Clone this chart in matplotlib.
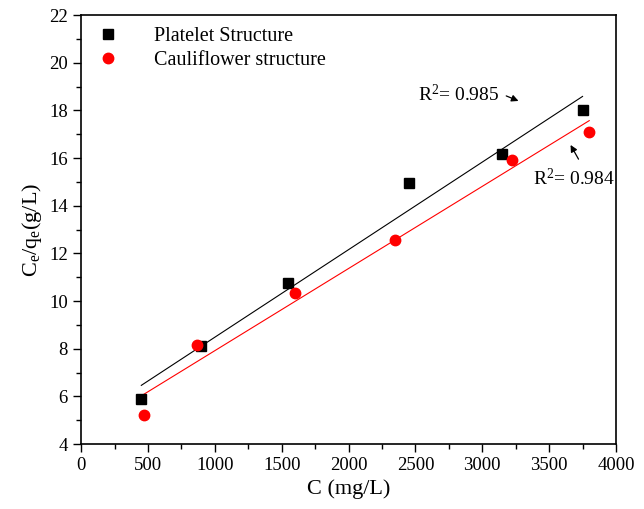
import matplotlib
matplotlib.use("Agg")
import matplotlib.pyplot as plt
import numpy as np
from matplotlib.ticker import MultipleLocator

plt.rcParams['font.family'] = ['Liberation Serif', 'DejaVu Serif']
plt.rcParams['mathtext.fontset'] = 'custom'
plt.rcParams['mathtext.rm'] = 'Liberation Serif'
plt.rcParams['mathtext.it'] = 'Liberation Serif:italic'

platelet_x = [450, 900, 1550, 2450, 3150, 3750]
platelet_y = [5.9, 8.1, 10.75, 14.95, 16.15, 18.0]
cauli_x = [470, 870, 1600, 2350, 3220, 3800]
cauli_y = [5.2, 8.15, 10.35, 12.55, 15.9, 17.1]
r2_platelet = "0.985"
r2_cauli = "0.984"

fig = plt.figure(figsize=(6.44, 5.09), dpi=100)
ax = fig.add_axes([0.126, 0.1277, 0.8305, 0.8428])

ax.plot(platelet_x, platelet_y, 's', color='black', markersize=7, label='Platelet Structure', zorder=3)
ax.plot(cauli_x, cauli_y, 'o', color='red', markersize=7.5, label='Cauliflower structure', zorder=3)

for xs, ys, c in [(platelet_x, platelet_y, 'black'), (cauli_x, cauli_y, 'red')]:
    k, b = np.polyfit(xs, ys, 1)
    xx = np.array([min(xs), max(xs)])
    ax.plot(xx, k * xx + b, '-', color=c, lw=0.8, zorder=2)

ax.annotate('', xy=(3290, 18.35), xytext=(3160, 18.65),
            arrowprops=dict(arrowstyle='-|>', color='black', lw=0.9, mutation_scale=10))
ax.text(2520, 18.68, r'R$^\mathrm{2}$= ' + r2_platelet, fontsize=14, va='center', ha='left')
ax.annotate('', xy=(3650, 16.65), xytext=(3730, 15.85),
            arrowprops=dict(arrowstyle='-|>', color='black', lw=0.9, mutation_scale=10))
ax.text(3380, 15.15, r'R$^\mathrm{2}$= ' + r2_cauli, fontsize=14, va='center', ha='left')

ax.set_xlim(0, 4000)
ax.set_ylim(4, 22)
ax.xaxis.set_major_locator(MultipleLocator(500))
ax.xaxis.set_minor_locator(MultipleLocator(250))
ax.yaxis.set_major_locator(MultipleLocator(2))
ax.yaxis.set_minor_locator(MultipleLocator(1))
ax.tick_params(which='both', direction='out', top=False, right=False, labelsize=13.5)
ax.tick_params(which='major', length=6, width=1)
ax.tick_params(which='minor', length=3.5, width=1)
for s in ax.spines.values():
    s.set_linewidth(1.2)

ax.set_xlabel('C (mg/L)', fontsize=16)
ax.set_ylabel(r'C$_\mathrm{e}$/q$_\mathrm{e}$(g/L)', fontsize=16)

ax.legend(loc='upper left', frameon=False, fontsize=14.5, handletextpad=1.3,
          borderaxespad=0.2, labelspacing=0.25, bbox_to_anchor=(-0.01, 1.0))

fig.savefig('out.png', dpi=100)
